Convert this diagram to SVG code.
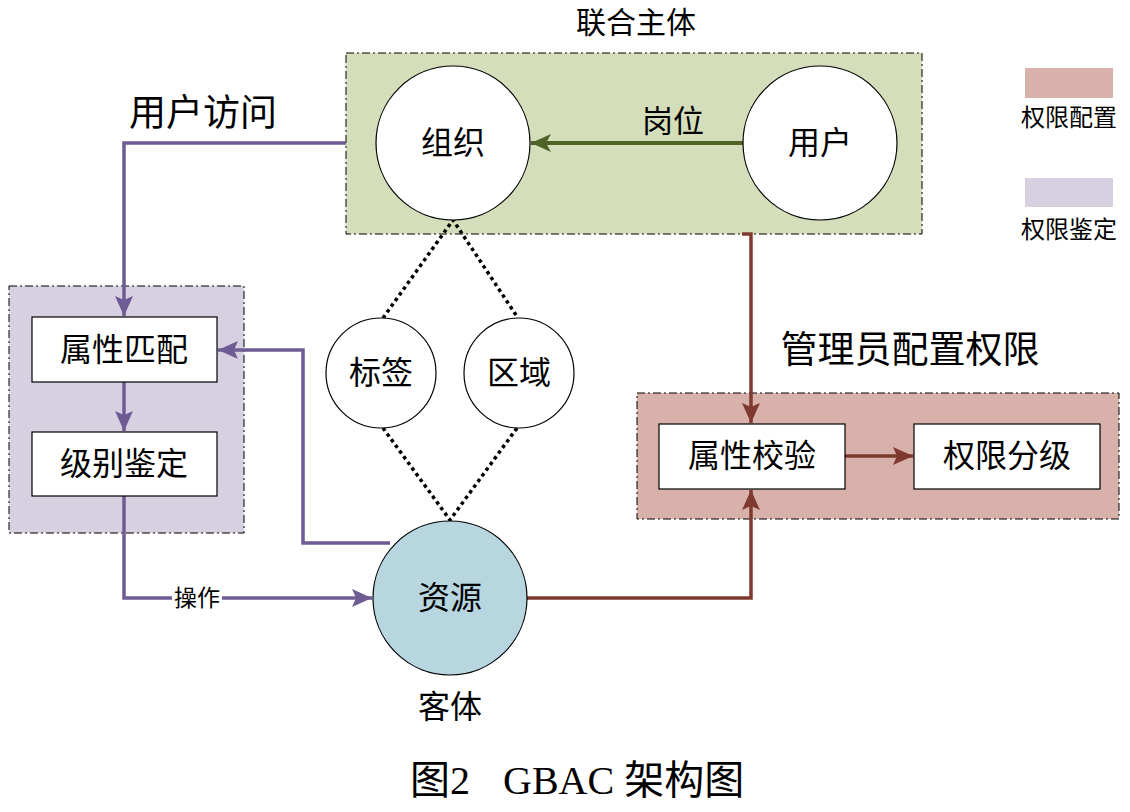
<svg xmlns="http://www.w3.org/2000/svg" width="1130" height="812" viewBox="0 0 1130 812">
<style>
text{font-family:"Liberation Serif","Noto Sans CJK SC",serif;fill:#000;text-anchor:middle;dominant-baseline:central}
.grp{stroke:#000;stroke-width:1;stroke-dasharray:8 3 2 3}
.node{fill:#fff;stroke:#000;stroke-width:1.2}
.dot{fill:none;stroke:#000;stroke-width:3.5;stroke-dasharray:3.5 3.5}
.pu{fill:none;stroke:#6f5b94;stroke-width:3.5}
.rd{fill:none;stroke:#7f3a30;stroke-width:3.5}
.gr{fill:none;stroke:#4f6228;stroke-width:4}
</style>
<defs>
<marker id="ap" markerUnits="userSpaceOnUse" markerWidth="22" markerHeight="22" viewBox="0 0 22 22" refX="20" refY="11" orient="auto"><path d="M0,2 L20,11 L0,20 L4,11 Z" fill="#6f5b94"/></marker>
<marker id="ar" markerUnits="userSpaceOnUse" markerWidth="22" markerHeight="22" viewBox="0 0 22 22" refX="20" refY="11" orient="auto"><path d="M0,2 L20,11 L0,20 L4,11 Z" fill="#7f3a30"/></marker>
<marker id="ag" markerUnits="userSpaceOnUse" markerWidth="22" markerHeight="22" viewBox="0 0 22 22" refX="20" refY="11" orient="auto"><path d="M0,2 L20,11 L0,20 L5,11 Z" fill="#4f6228"/></marker>
</defs>
<rect width="1130" height="812" fill="#fff"/>

<g id="group-lianhe">
<rect class="grp" x="346" y="53" width="576" height="181" fill="#d4deba"/>
<text x="636" y="22" font-size="30">联合主体</text>
</g>
<g id="group-jianding">
<rect class="grp" x="9" y="286" width="235" height="247" fill="#d6d0e1"/>
</g>
<g id="group-peizhi">
<rect class="grp" x="637" y="393" width="482" height="126" fill="#d9b1ab"/>
<text x="910" y="350" font-size="37">管理员配置权限</text>
</g>

<g id="connectors">
<path class="gr" d="M743 143 H531" marker-end="url(#ag)"/>
<path class="dot" d="M383 318 L453 220 L518 318"/>
<path class="dot" d="M383 428 L450 520 L517 428"/>
<path class="pu" d="M346 143 H124 V316" marker-end="url(#ap)"/>
<path class="pu" d="M124 382 V431" marker-end="url(#ap)"/>
<path class="pu" d="M124 496 V598 H372" marker-end="url(#ap)"/>
<path class="pu" d="M390 543 H303 V350 H218" marker-end="url(#ap)"/>
<path class="rd" d="M742 234 H751 V423" marker-end="url(#ar)"/>
<path class="rd" d="M527 598 H751 V490" marker-end="url(#ar)"/>
<path class="rd" d="M845 456 H913" marker-end="url(#ar)"/>
<rect x="172" y="586" width="50" height="24" fill="#fff"/>
<text x="197" y="598" font-size="23">操作</text>
<text x="673" y="121" font-size="31">岗位</text>
<text x="203" y="113" font-size="37">用户访问</text>
</g>

<g id="node-zuzhi"><circle class="node" cx="453" cy="143" r="77"/><text x="453" y="143" font-size="32">组织</text></g>
<g id="node-yonghu"><circle class="node" cx="820" cy="143" r="77"/><text x="820" y="143" font-size="32">用户</text></g>
<g id="node-biaoqian"><circle class="node" cx="381" cy="373" r="55"/><text x="381" y="373" font-size="32">标签</text></g>
<g id="node-quyu"><circle class="node" cx="519" cy="373" r="55"/><text x="519" y="373" font-size="32">区域</text></g>
<g id="node-ziyuan"><circle cx="450" cy="598" r="77" fill="#b7d6e0" stroke="#000" stroke-width="1.2"/><text x="450" y="598" font-size="32">资源</text><text x="450" y="707" font-size="32">客体</text></g>
<g id="node-shuxingpipei"><rect class="node" x="32" y="317" width="185" height="65"/><text x="124" y="350" font-size="32">属性匹配</text></g>
<g id="node-jibiejianding"><rect class="node" x="32" y="432" width="185" height="64"/><text x="124" y="464" font-size="32">级别鉴定</text></g>
<g id="node-shuxingjiaoyan"><rect class="node" x="659" y="424" width="186" height="65"/><text x="752" y="456" font-size="32">属性校验</text></g>
<g id="node-quanxianfenji"><rect class="node" x="914" y="424" width="186" height="65"/><text x="1007" y="456" font-size="32">权限分级</text></g>

<g id="legend">
<rect x="1025" y="68" width="88" height="30" fill="#d9b1ab"/>
<text x="1069" y="118" font-size="24">权限配置</text>
<rect x="1025" y="178" width="88" height="29" fill="#d6d0e1"/>
<text x="1069" y="230" font-size="24">权限鉴定</text>
</g>

<g id="caption">
<text x="410" y="780" font-size="40" style="text-anchor:start">图2</text>
<text x="503" y="780" font-size="40" style="text-anchor:start">GBAC 架构图</text>
</g>
</svg>
